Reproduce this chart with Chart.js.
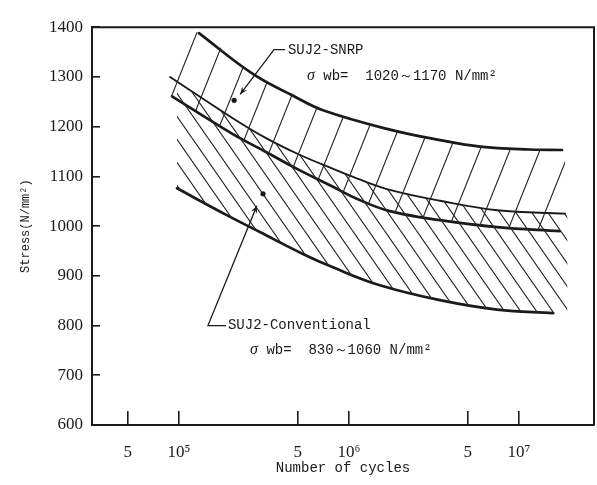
<!DOCTYPE html>
<html>
<head>
<meta charset="utf-8">
<script src="https://cdn.jsdelivr.net/npm/chart.js@4.4.0/dist/chart.umd.min.js"></script>
<style>
html,body{margin:0;padding:0;background:#fff;}
#wrap{width:597px;height:485px;position:relative;}
</style>
</head>
<body>
<div id="wrap"><canvas id="c" width="597" height="485"></canvas></div>
<script>
// ---------- data ----------
// Curve A : SNRP upper limit
const curveAN = [1.31e5, 2.72e5, 4.69e5, 7.03e5, 1.74e6, 3.43e6, 5.90e6, 1.16e7, 1.79e7];
const curveAS = [1388, 1306, 1262, 1233, 1194, 1173, 1160, 1154, 1153];
// Curve B : thin middle curve (starts near 1300)
const curveBN = [8.86e4, 2.05e5, 3.21e5, 5.01e5, 7.94e5, 1.11e6, 1.74e6, 3.43e6, 7.43e6, 1.87e7];
const curveBS = [1300, 1218, 1178, 1145, 1116, 1096, 1073, 1051, 1032, 1025];
// Curve C : thick middle curve (starts near 1260)
const curveCN = [9.1e4, 2.05e5, 3.21e5, 5.01e5, 7.94e5, 1.11e6, 1.74e6, 3.43e6, 7.43e6, 1.74e7];
const curveCS = [1261, 1186, 1150, 1114, 1080, 1055, 1030, 1012, 998, 990];
// Curve D : conventional lower limit
const curveDN = [9.73e4, 1.91e5, 2.99e5, 5.36e5, 8.05e5, 1.52e6, 3.43e6, 7.43e6, 1.59e7];
const curveDS = [1076, 1022, 988, 944, 917, 881, 851, 832, 825];

// extents of the hatched bands
const snrpHatchTopN = [8.86e4, 1.31e5, 2.72e5, 4.69e5, 7.03e5, 1.74e6, 3.43e6, 5.90e6, 1.16e7, 1.87e7];
const snrpHatchTopS = [1390, 1388, 1306, 1262, 1233, 1194, 1173, 1160, 1154, 1153];
const snrpHatchBotN = [8.86e4, 2.05e5, 3.21e5, 5.01e5, 7.94e5, 1.11e6, 1.74e6, 3.43e6, 7.43e6, 1.87e7];
const snrpHatchBotS = [1262, 1186, 1150, 1114, 1080, 1055, 1030, 1012, 998, 990];
const convHatchTopN = [8.86e4, 2.05e5, 3.21e5, 5.01e5, 7.94e5, 1.11e6, 1.74e6, 3.43e6, 7.43e6, 1.93e7];
const convHatchTopS = [1300, 1218, 1178, 1145, 1116, 1096, 1073, 1051, 1032, 1024];
const convHatchBotN = [9.73e4, 1.91e5, 2.99e5, 5.36e5, 8.05e5, 1.52e6, 3.43e6, 7.43e6, 1.59e7, 1.93e7];
const convHatchBotS = [1076, 1022, 988, 944, 917, 881, 851, 832, 825, 824];

// axes
const xTickValues = [5e4, 1e5, 5e5, 1e6, 5e6, 1e7];
const xTickLabels = ['5', '10\u2075', '5', '10\u2076', '5', '10\u2077'];
const yTickValues = [600, 700, 800, 900, 1000, 1100, 1200, 1300, 1400];
const yTickLabels = ['600', '700', '800', '900', '1000', '1100', '1200', '1300', '1400'];
const xMin = 30774, xMax = 2.762e7, yMin = 600, yMax = 1400;
const xTitle = 'Number of cycles';
const yTitle = 'Stress(N/mm\u00b2)';

// annotations (data coordinates)
const snrpName = 'SUJ2-SNRP';
const snrpValue = ' wb=  1020\uff5e1170 N/mm\u00b2';
const convName = 'SUJ2-Conventional';
const convValue = ' wb=  830\uff5e1060 N/mm\u00b2';
const snrpLeader = [[2.29e5, 1265], [3.62e5, 1355], [4.21e5, 1355]];
const snrpDot = [2.11e5, 1253];
const snrpNamePos = [4.37e5, 1353];
const snrpValuePos = [5.66e5, 1302];
const convLeader = [[2.87e5, 1041], [1.48e5, 800], [1.89e5, 800]];
const convDot = [3.12e5, 1065];
const convNamePos = [1.94e5, 800];
const convValuePos = [2.62e5, 751];

// ---------- helpers ----------
const ink = '#1a1a1a';
function pts(n, s) { return n.map((v, i) => ({x: v, y: s[i]})); }
function hatch(w, h, dir) {
  const c = document.createElement('canvas');
  c.width = w; c.height = h;
  const g = c.getContext('2d');
  g.strokeStyle = '#262626';
  g.lineWidth = 1.15;
  g.beginPath();
  for (let k = -1; k <= 1; k++) {
    if (dir === '/') { g.moveTo(k * w, h); g.lineTo(k * w + w, 0); }
    else { g.moveTo(k * w, 0); g.lineTo(k * w + w, h); }
  }
  g.stroke();
  return g.createPattern(c, 'repeat');
}
const slashPattern = hatch(30, 75, '/');
const backPattern = hatch(16, 23, '\\');

const boundary = {borderWidth: 0, borderColor: 'rgba(0,0,0,0)', pointRadius: 0, tension: 0.4};
const curve = {borderColor: ink, pointRadius: 0, fill: false, tension: 0.4, borderCapStyle: 'round'};

const frame = {
  id: 'frame',
  afterDraw(chart) {
    const {ctx, chartArea: a} = chart;
    ctx.save();
    ctx.strokeStyle = ink; ctx.lineWidth = 2;
    ctx.beginPath();
    ctx.moveTo(a.left, a.top); ctx.lineTo(a.right, a.top); ctx.lineTo(a.right, a.bottom);
    ctx.stroke();
    ctx.restore();
  }
};

const notes = {
  id: 'notes',
  afterDatasetsDraw(chart) {
    const {ctx} = chart; const xs = chart.scales.x, ys = chart.scales.y;
    const P = p => [xs.getPixelForValue(p[0]), ys.getPixelForValue(p[1])];
    ctx.save();
    ctx.strokeStyle = ink; ctx.fillStyle = ink; ctx.lineWidth = 1.3;
    function leader(list, dot) {
      const q = list.map(P);
      ctx.beginPath();
      ctx.moveTo(q[0][0], q[0][1]);
      for (let i = 1; i < q.length; i++) ctx.lineTo(q[i][0], q[i][1]);
      ctx.stroke();
      const ang = Math.atan2(q[0][1] - q[1][1], q[0][0] - q[1][0]);
      const L = 8, W = 0.4;
      ctx.beginPath();
      ctx.moveTo(q[0][0], q[0][1]);
      ctx.lineTo(q[0][0] - L * Math.cos(ang - W), q[0][1] - L * Math.sin(ang - W));
      ctx.lineTo(q[0][0] - L * 0.6 * Math.cos(ang), q[0][1] - L * 0.6 * Math.sin(ang));
      ctx.lineTo(q[0][0] - L * Math.cos(ang + W), q[0][1] - L * Math.sin(ang + W));
      ctx.closePath(); ctx.fill();
      const d = P(dot);
      ctx.beginPath(); ctx.arc(d[0], d[1], 2.6, 0, Math.PI * 2); ctx.fill();
    }
    leader(snrpLeader, snrpDot);
    leader(convLeader, convDot);
    ctx.textBaseline = 'middle'; ctx.textAlign = 'left';
    function label(pos, txt) {
      const p = P(pos);
      ctx.font = '14px "Liberation Mono"';
      ctx.fillText(txt, p[0], p[1]);
    }
    function value(pos, txt) {
      const p = P(pos);
      ctx.font = 'italic 16px "Liberation Serif"';
      ctx.fillText('\u03c3', p[0], p[1]);
      const w = ctx.measureText('\u03c3').width;
      ctx.font = '14px "Liberation Mono"';
      ctx.fillText(txt, p[0] + w, p[1]);
    }
    label(snrpNamePos, snrpName);
    value(snrpValuePos, snrpValue);
    label(convNamePos, convName);
    value(convValuePos, convValue);
    ctx.restore();
  }
};

new Chart(document.getElementById('c'), {
  type: 'line',
  data: {
    datasets: [
      Object.assign({data: pts(snrpHatchTopN, snrpHatchTopS), fill: 1, backgroundColor: slashPattern}, boundary),
      Object.assign({data: pts(snrpHatchBotN, snrpHatchBotS), fill: false}, boundary),
      Object.assign({data: pts(convHatchTopN, convHatchTopS), fill: 3, backgroundColor: backPattern}, boundary),
      Object.assign({data: pts(convHatchBotN, convHatchBotS), fill: false}, boundary),
      Object.assign({data: pts(curveAN, curveAS), borderWidth: 2.7}, curve),
      Object.assign({data: pts(curveBN, curveBS), borderWidth: 1.9}, curve),
      Object.assign({data: pts(curveCN, curveCS), borderWidth: 2.7}, curve),
      Object.assign({data: pts(curveDN, curveDS), borderWidth: 2.7}, curve)
    ]
  },
  options: {
    responsive: false,
    animation: false,
    events: [],
    layout: {padding: {top: 16, right: 3, left: 0, bottom: 0}},
    plugins: {legend: {display: false}, tooltip: {enabled: false}},
    scales: {
      x: {
        type: 'logarithmic', position: 'bottom', min: xMin, max: xMax,
        afterBuildTicks: s => { s.ticks = xTickValues.map(v => ({value: v})); },
        afterFit: s => { s.height = 60; },
        grid: {drawOnChartArea: false, drawTicks: true, tickLength: -14, color: ink, lineWidth: 1.6},
        border: {display: true, color: ink, width: 2},
        ticks: {
          autoSkip: false, maxRotation: 0, minRotation: 0, padding: 31, color: ink,
          font: {family: '"Liberation Serif"', size: 17},
          callback: v => { const i = xTickValues.indexOf(v); return i >= 0 ? xTickLabels[i] : ''; }
        },
        title: {display: true, text: xTitle, color: ink, font: {family: '"Liberation Mono"', size: 14}, padding: {top: 0, bottom: 8}}
      },
      y: {
        type: 'linear', position: 'left', min: yMin, max: yMax,
        afterBuildTicks: s => { s.ticks = yTickValues.map(v => ({value: v})); },
        afterFit: s => { s.width = 92; },
        grid: {drawOnChartArea: false, drawTicks: true, tickLength: -8, color: ink, lineWidth: 1.6},
        border: {display: true, color: ink, width: 2},
        ticks: {
          padding: 17, color: ink,
          font: {family: '"Liberation Serif"', size: 17},
          callback: v => { const i = yTickValues.indexOf(v); return i >= 0 ? yTickLabels[i] : ''; }
        },
        title: {display: true, text: yTitle, color: ink, font: {family: '"Liberation Mono"', size: 12}, padding: {top: 19, bottom: 0}}
      }
    }
  },
  plugins: [frame, notes]
});
</script>
</body>
</html>
